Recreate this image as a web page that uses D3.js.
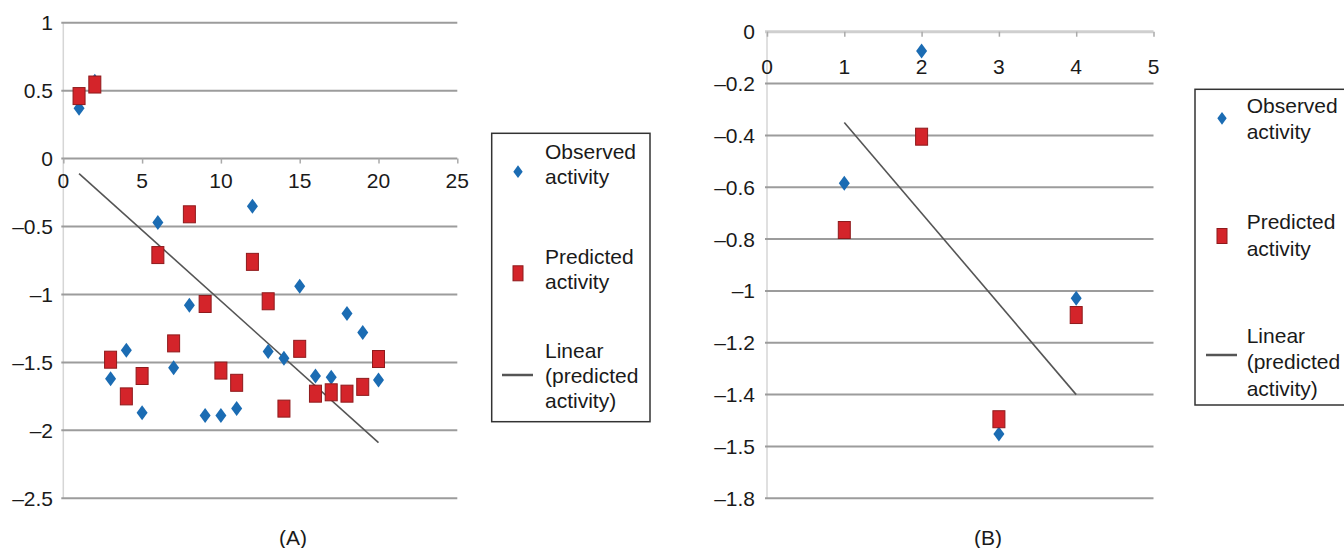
<!DOCTYPE html>
<html><head><meta charset="utf-8">
<script src="https://cdn.jsdelivr.net/npm/d3@7/dist/d3.min.js"></script>
<style>
html,body{margin:0;padding:0;background:#fff;}
svg text{font-family:"Liberation Sans",Arial,sans-serif;fill:#1a1a1a;}
</style></head>
<body>
<svg id="c" width="1344" height="548"></svg>
<script>
// ---- Panel A data ----
const xA = [1,2,3,4,5,6,7,8,9,10,11,12,13,14,15,16,17,18,19,20];
const observedA = [0.37,0.57,-1.62,-1.41,-1.87,-0.47,-1.54,-1.08,-1.89,-1.89,-1.84,-0.35,-1.42,-1.47,-0.94,-1.60,-1.61,-1.14,-1.28,-1.63];
const predictedA = [0.46,0.545,-1.48,-1.75,-1.60,-0.71,-1.36,-0.41,-1.07,-1.56,-1.65,-0.76,-1.05,-1.84,-1.40,-1.73,-1.72,-1.73,-1.68,-1.475];
const trendAx = [1,20];
const trendAy = [-0.11,-2.09];
const yTicksA = [1,0.5,0,-0.5,-1,-1.5,-2,-2.5];
const yTickLabelsA = ["1","0.5","0","–0.5","–1","–1.5","–2","–2.5"];
const xTicksA = [0,5,10,15,20,25];

// ---- Panel B data ----
const xB = [1,2,3,4];
const observedB = [-0.585,-0.074,-1.552,-1.028];
const predictedB = [-0.765,-0.405,-1.495,-1.093];
const trendBx = [1,4];
const trendBy = [-0.35,-1.40];
const yTicksB = [0,-0.2,-0.4,-0.6,-0.8,-1,-1.2,-1.4,-1.6,-1.8];
const yTickLabelsB = ["0","–0.2","–0.4","–0.6","–0.8","–1","–1.2","–1.4","–1.5","–1.8"];
const xTicksB = [0,1,2,3,4,5];

const legendLabels = [["Observed","activity"],["Predicted","activity"],["Linear","(predicted","activity)"]];

const BLUE="#1b6cb3", RED="#d4242a", REDB="#8e1a1c", GRID="#9c9c9c", TREND="#555";
const svg = d3.select("#c");

function diamond(g, x, y, s){
  s = s || 1;
  const hw = 5.5*s, hh = 7.5*s;
  g.append("path").attr("d",`M${x},${y-hh}L${x+hw},${y}L${x},${y+hh}L${x-hw},${y}Z`).attr("fill",BLUE);
}
function square(g, x, y){
  g.append("rect").attr("x",x-6).attr("y",y-8.5).attr("width",12).attr("height",17)
   .attr("fill",RED).attr("stroke",REDB).attr("stroke-width",1);
}

function panel(cfg){
  const g = svg.append("g");
  const x = d3.scaleLinear().domain(cfg.xDom).range(cfg.xRange);
  const y = d3.scaleLinear().domain(cfg.yDom).range(cfg.yRange);
  g.append("line").attr("x1",x(0)).attr("x2",x(0)).attr("y1",y(cfg.yDom[0])).attr("y2",y(cfg.yDom[1]))
    .attr("stroke","#d6d6d6").attr("stroke-width",1.5);
  cfg.yTicks.forEach((t,i)=>{
    const isZero = t===0;
    g.append("line").attr("x1",cfg.xRange[0]-2).attr("x2",cfg.xRange[1]).attr("y1",y(t)).attr("y2",y(t))
      .attr("stroke", (isZero && cfg.lightZero) ? "#cfcfcf" : GRID).attr("stroke-width", (isZero && cfg.lightZero)?3:2);
    g.append("text").attr("x",cfg.yLabelX).attr("y",y(t)).attr("dy","0.36em").attr("text-anchor","end")
      .attr("font-size",21).text(cfg.yTickLabels[i]);
  });
  const xAxis = d3.axisBottom(x).tickValues(cfg.xTicks).tickSize(5).tickFormat("");
  const ax = g.append("g").attr("transform",`translate(0,${y(0)})`).call(xAxis);
  ax.select(".domain").remove();
  ax.selectAll(".tick line").attr("stroke","#aaa").attr("stroke-width",1.5);
  cfg.xTicks.forEach(t=>{
    g.append("text").attr("x",x(t)).attr("y",y(0)+cfg.xLabelDy).attr("dy","0.36em").attr("text-anchor","middle")
      .attr("font-size",21).text(t);
  });
  g.append("path").datum(cfg.trendX.map((v,i)=>[v,cfg.trendY[i]]))
    .attr("d",d3.line().x(d=>x(d[0])).y(d=>y(d[1])))
    .attr("stroke",TREND).attr("stroke-width",1.6).attr("fill","none");
  cfg.xs.forEach((v,i)=>diamond(g,x(v),y(cfg.obs[i])));
  cfg.xs.forEach((v,i)=>square(g,x(v),y(cfg.pred[i])));
  g.append("text").attr("x",cfg.tagX).attr("y",537).attr("dy","0.36em").attr("text-anchor","middle")
    .attr("font-size",21).text(cfg.tag);
}

panel({xDom:[0,25], xRange:[63.3,457.3], yDom:[1,-2.5], yRange:[22.7,498.3],
  yTicks:yTicksA, yTickLabels:yTickLabelsA, yLabelX:53, xTicks:xTicksA, xLabelDy:22,
  xs:xA, obs:observedA, pred:predictedA, trendX:trendAx, trendY:trendAy, tag:"(A)", tagX:293, lightZero:false});
panel({xDom:[0,5], xRange:[767,1153.5], yDom:[0,-1.8], yRange:[31.7,498.3],
  yTicks:yTicksB, yTickLabels:yTickLabelsB, yLabelX:755, xTicks:xTicksB, xLabelDy:35,
  xs:xB, obs:observedB, pred:predictedB, trendX:trendBx, trendY:trendBy, tag:"(B)", tagX:988, lightZero:true});

function legend(cfg){
  const g = svg.append("g");
  g.append("rect").attr("x",cfg.x0).attr("y",cfg.y0).attr("width",cfg.w).attr("height",cfg.h)
    .attr("fill","none").attr("stroke","#333").attr("stroke-width",1.5);
  legendLabels.forEach((lines,k)=>{
    lines.forEach((s,j)=>{
      g.append("text").attr("x",cfg.textX).attr("y",cfg.firstY[k]+j*cfg.lh).attr("dy","0.36em")
        .attr("font-size",21).text(s);
    });
  });
  diamond(g,cfg.markX,cfg.markY[0],0.85);
  g.append("rect").attr("x",cfg.markX-5).attr("y",cfg.markY[1]-7.5).attr("width",10).attr("height",15)
    .attr("fill",RED).attr("stroke",REDB).attr("stroke-width",1);
  g.append("line").attr("x1",cfg.markX-16).attr("x2",cfg.markX+15).attr("y1",cfg.markY[2]).attr("y2",cfg.markY[2])
    .attr("stroke",TREND).attr("stroke-width",2.5);
}
legend({x0:491.7,y0:133.3,w:158.3,h:288.4,textX:545,firstY:[151.7,256.7,350],lh:25,markX:518,markY:[171.7,273.3,375]});
legend({x0:1195,y0:89.3,w:160,h:315.7,textX:1246.7,firstY:[105,221.7,335],lh:26.5,markX:1222,markY:[118.3,236,355]});
</script>
</body></html>
